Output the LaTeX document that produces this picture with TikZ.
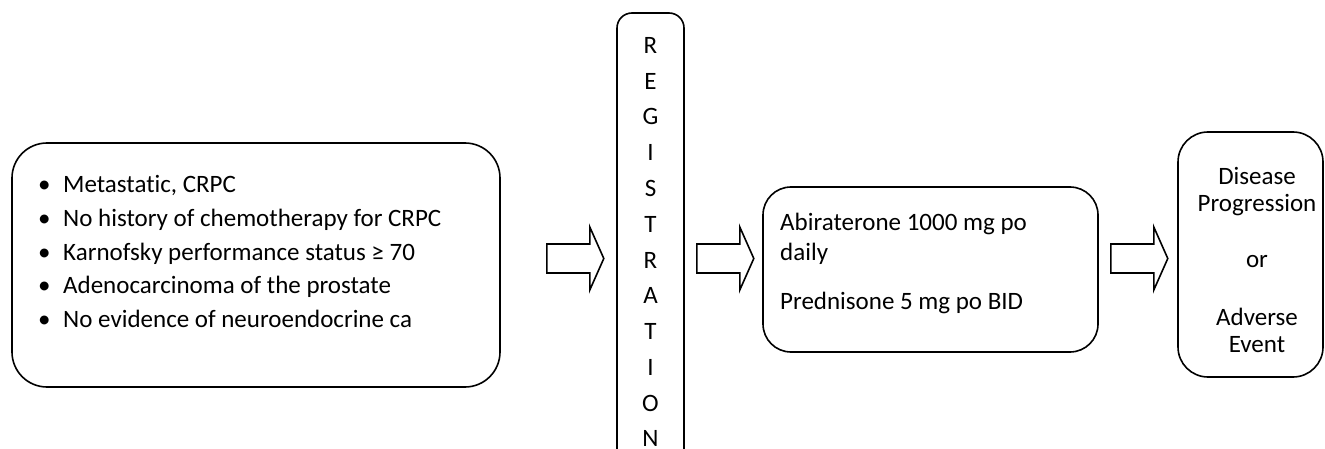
\documentclass[tikz,border=0pt]{standalone}
\usepackage{fontspec}
\setmainfont{Carlito}[Ligatures=NoCommon]
\usepackage{tikz}
\usetikzlibrary{calc}

\tikzset{
  box/.style={draw, line width=1.6pt, rounded corners=#1, inner sep=0pt},
  fatarrow/.style={draw, line width=1.6pt, line join=miter},
  every node/.style={font=\fontsize{25}{30}\selectfont}
}

\begin{document}
\begin{tikzpicture}[x=1pt, y=-1pt]
\useasboundingbox (0,0) rectangle (1325,449);
\clip (0,0) rectangle (1325,449);
% boxes
\node[box=35pt, minimum width=488pt, minimum height=244pt] (crit) at (256,265) {};
\node[box=15pt, minimum width=67pt, minimum height=467pt] (reg) at (650.5,246.5) {};
\node[box=28pt, minimum width=335pt, minimum height=165pt] (treat) at (930.5,269.5) {};
\node[box=30pt, minimum width=145pt, minimum height=245pt] (outcome) at (1250.5,254.5) {};
% eligibility
\foreach \t [count=\i] in {{Metastatic, CRPC}, No history of chemotherapy for CRPC,
  Karnofsky performance status ≥ 70, Adenocarcinoma of the prostate,
  No evidence of neuroendocrine ca}
  \node[anchor=base west, inner sep=0pt] (crit-\i) at (38,{193+33.5*(\i-1)}) {\makebox[25pt][l]{•}\t};
% registration, one letter per line
\foreach \l [count=\i] in {R,E,G,I,S,T,R,A,T,I,O,N}
  \node[anchor=base, inner sep=0pt] (reg-\i) at (650.5,{53.5+35.75*(\i-1)}) {\l};
% treatment
\node[anchor=base west, inner sep=0pt] (treat-1) at (780,230) {Abiraterone 1000 mg po};
\node[anchor=base west, inner sep=0pt] (treat-2) at (780,260) {daily};
\node[anchor=base west, inner sep=0pt] (treat-3) at (780,309) {Prednisone 5 mg po BID};
% end of treatment
\foreach \t/\y [count=\i] in {Disease/185, Progression/212, or/267, Adverse/325, Event/352}
  \node[anchor=base, inner sep=0pt] (out-\i) at (1257,\y) {\t};
% block arrows
\coordinate (a1) at ($(crit.east)+(46,-6.5)$);
\coordinate (a2) at ($(reg.east |- a1)+(12,0)$);
\coordinate (a3) at ($(treat.east |- a1)+(12,0)$);
\foreach \a in {a1,a2,a3}
  \draw[fatarrow] (\a) ++(0,-14.5) -- ++(43,0) -- ++(0,-17) -- ++(14,31.5)
    -- ++(-14,31.5) -- ++(0,-17) -- ++(-43,0) -- cycle;
\end{tikzpicture}
\end{document}
